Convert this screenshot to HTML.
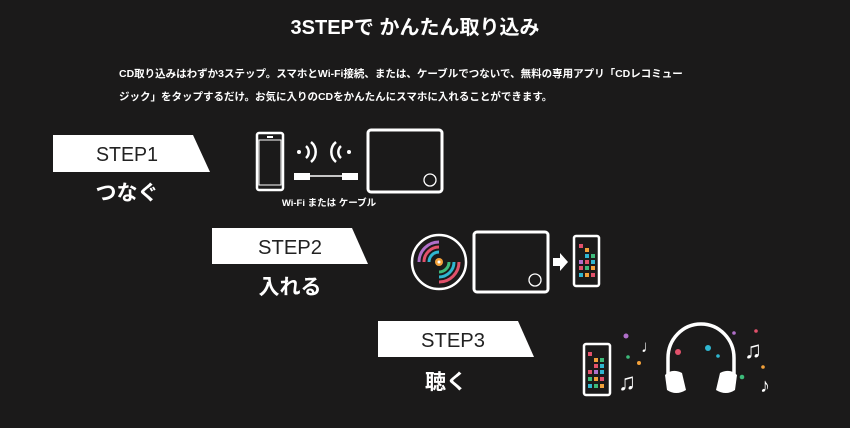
<!DOCTYPE html>
<html><head><meta charset="utf-8"><style>
html,body{margin:0;padding:0;background:#1b1a1a;}
svg{display:block}
text{font-family:"Liberation Sans","Noto Sans CJK JP",sans-serif;}
</style></head><body>
<svg width="850" height="428" viewBox="0 0 850 428" xmlns="http://www.w3.org/2000/svg">
<rect width="850" height="428" fill="#1b1a1a"/>
<text x="415" y="34" fill="#fff" font-size="20" font-weight="bold" text-anchor="middle">3STEPで かんたん取り込み</text>
<text x="119" y="77" fill="#fff" font-size="10.5" font-weight="bold">CD取り込みはわずか3ステップ。スマホとWi-Fi接続、または、ケーブルでつないで、無料の専用アプリ「CDレコミュー</text>
<text x="119" y="100" fill="#fff" font-size="10.5" font-weight="bold">ジック」をタップするだけ。お気に入りのCDをかんたんにスマホに入れることができます。</text>

<!-- banners -->
<polygon points="53,135 193,135 210,172 53,172" fill="#fff"/>
<text x="96" y="161" font-size="20" fill="#222" textLength="62" lengthAdjust="spacingAndGlyphs">STEP1</text>
<text x="127" y="200" font-size="21" font-weight="bold" fill="#fff" text-anchor="middle">つなぐ</text>

<polygon points="212,228 352,228 368,264 212,264" fill="#fff"/>
<text x="258" y="254" font-size="20" fill="#222" textLength="64" lengthAdjust="spacingAndGlyphs">STEP2</text>
<text x="290" y="294" font-size="21" font-weight="bold" fill="#fff" text-anchor="middle">入れる</text>

<polygon points="378,321 518,321 534,357 378,357" fill="#fff"/>
<text x="421" y="347" font-size="20" fill="#222" textLength="64" lengthAdjust="spacingAndGlyphs">STEP3</text>
<text x="446" y="389" font-size="21" font-weight="bold" fill="#fff" text-anchor="middle">聴く</text>

<!-- step1 icons -->
<g fill="none" stroke="#fff">
<rect x="257" y="133" width="26" height="57" rx="2" stroke-width="2.5"/>
<rect x="368" y="130" width="74" height="62" rx="3" stroke-width="3"/>
<circle cx="430" cy="180" r="6" stroke-width="1.3"/>
<path d="M306,146 a8,8 0 0 1 0,12 M311,142 a13,13 0 0 1 0,20" stroke-width="2.5"/>
<path d="M341,146 a8,8 0 0 0 0,12 M336,142 a13,13 0 0 0 0,20" stroke-width="2.5"/>
<line x1="310" y1="176" x2="342" y2="176" stroke-width="1.5"/>
</g>
<rect x="267" y="136" width="6" height="2" fill="#fff"/>
<rect x="259" y="140" width="22" height="45" fill="none" stroke="#fff" stroke-width="1"/>
<circle cx="299" cy="152" r="2" fill="#fff"/><circle cx="349" cy="152" r="2" fill="#fff"/>
<rect x="294" y="173" width="16" height="7" fill="#fff"/><rect x="342" y="173" width="16" height="7" fill="#fff"/>
<text x="329" y="206" font-size="9.5" font-weight="bold" fill="#fff" text-anchor="middle">Wi-Fi または ケーブル</text>

<!-- step2 icons -->
<circle cx="439" cy="262" r="27" fill="none" stroke="#fff" stroke-width="2.5"/>
<g fill="none" stroke-width="3">
<path d="M439,242 a20,20 0 0 0 -20,20" stroke="#b06fc9"/>
<path d="M439,247 a15,15 0 0 0 -15,15" stroke="#e2516b"/>
<path d="M439,252 a10,10 0 0 0 -10,10" stroke="#2fb6d0"/>
<path d="M439,282 a20,20 0 0 0 20,-20" stroke="#e2516b"/>
<path d="M439,277 a15,15 0 0 0 15,-15" stroke="#2fb6d0"/>
<path d="M439,272 a10,10 0 0 0 10,-10" stroke="#3dba7a"/>
</g>
<circle cx="439" cy="262" r="4" fill="#f3a13a"/><circle cx="439" cy="262" r="1.5" fill="#fff"/>
<rect x="474" y="232" width="74" height="60" rx="3" fill="none" stroke="#fff" stroke-width="3"/>
<circle cx="535" cy="280" r="6" fill="none" stroke="#fff" stroke-width="1.3"/>
<polygon points="553,258 560,258 560,253 568,262 560,271 560,266 553,266" fill="#fff"/>
<rect x="574" y="236" width="25" height="50" rx="2" fill="none" stroke="#fff" stroke-width="2.5"/>
<g>
<rect x="579" y="244" width="4" height="4" fill="#e2516b"/><rect x="585" y="248" width="4" height="4" fill="#f3a13a"/>
<rect x="585" y="254" width="4" height="4" fill="#2fb6d0"/><rect x="591" y="254" width="4" height="4" fill="#3dba7a"/>
<rect x="579" y="260" width="4" height="4" fill="#b06fc9"/><rect x="585" y="260" width="4" height="4" fill="#e2516b"/><rect x="591" y="260" width="4" height="4" fill="#2fb6d0"/>
<rect x="579" y="266" width="4" height="4" fill="#e2516b"/><rect x="585" y="266" width="4" height="4" fill="#3dba7a"/><rect x="591" y="266" width="4" height="4" fill="#f3a13a"/>
<rect x="579" y="273" width="4" height="4" fill="#2fb6d0"/><rect x="585" y="273" width="4" height="4" fill="#f3a13a"/><rect x="591" y="273" width="4" height="4" fill="#e2516b"/>
</g>

<!-- step3 icons -->
<rect x="584" y="344" width="26" height="51" rx="2" fill="none" stroke="#fff" stroke-width="2.5"/>
<g>
<rect x="588" y="352" width="4" height="4" fill="#e2516b"/><rect x="594" y="358" width="4" height="4" fill="#f3a13a"/><rect x="600" y="358" width="4" height="4" fill="#3dba7a"/>
<rect x="594" y="364" width="4" height="4" fill="#e2516b"/><rect x="600" y="364" width="4" height="4" fill="#2fb6d0"/>
<rect x="588" y="370" width="4" height="4" fill="#e2516b"/><rect x="594" y="370" width="4" height="4" fill="#b06fc9"/><rect x="600" y="370" width="4" height="4" fill="#2fb6d0"/>
<rect x="588" y="377" width="4" height="4" fill="#3dba7a"/><rect x="594" y="377" width="4" height="4" fill="#f3a13a"/><rect x="600" y="377" width="4" height="4" fill="#e2516b"/>
<rect x="588" y="384" width="4" height="4" fill="#2fb6d0"/><rect x="594" y="384" width="4" height="4" fill="#3dba7a"/><rect x="600" y="384" width="4" height="4" fill="#f3a13a"/>
</g>
<path d="M668,374 L668,358 a33,34 0 0 1 66,0 L734,374" fill="none" stroke="#fff" stroke-width="3.5"/>
<path d="M665,375 Q672,368 682,373 L686,390 Q676,396 667,390 Z" fill="#fff"/>
<path d="M737,375 Q730,368 720,373 L716,390 Q726,396 735,390 Z" fill="#fff"/>
<text x="641" y="352" font-size="17" fill="#fff">♩</text>
<text x="618" y="390" font-size="24" fill="#fff">♫</text>
<text x="744" y="358" font-size="24" fill="#fff">♫</text>
<text x="760" y="392" font-size="20" fill="#fff">♪</text>
<g>
<circle cx="626" cy="336" r="2.5" fill="#b06fc9"/><circle cx="628" cy="357" r="1.8" fill="#3dba7a"/><circle cx="639" cy="363" r="2" fill="#f3a13a"/>
<circle cx="678" cy="352" r="3" fill="#e2516b"/><circle cx="708" cy="348" r="3" fill="#2fb6d0"/><circle cx="718" cy="356" r="1.8" fill="#2fb6d0"/>
<circle cx="734" cy="333" r="1.8" fill="#b06fc9"/><circle cx="756" cy="331" r="1.8" fill="#e2516b"/><circle cx="742" cy="377" r="2.3" fill="#3dba7a"/><circle cx="763" cy="367" r="1.8" fill="#f3a13a"/>
</g>
</svg>
</body></html>
